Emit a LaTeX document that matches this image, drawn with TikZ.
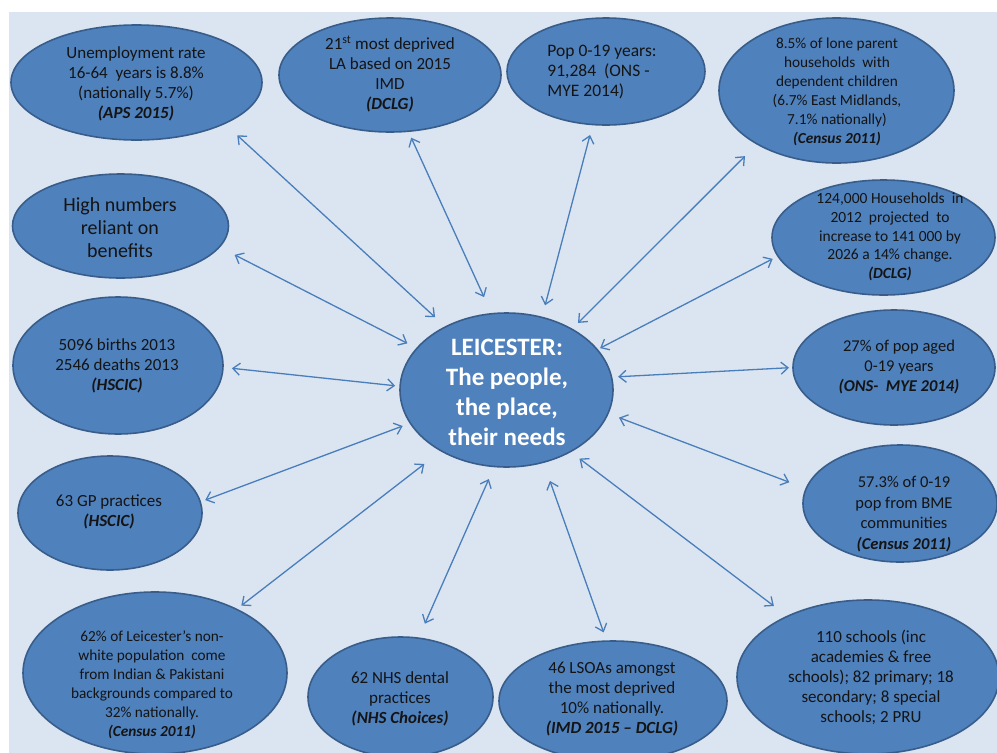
\documentclass[tikz,border=0pt]{standalone}
\usepackage{fontspec}
\setmainfont{Carlito}
\usetikzlibrary{arrows.meta,shapes.geometric}
\definecolor{bg}{HTML}{DBE5F1}
\definecolor{ellfill}{HTML}{4F81BD}
\definecolor{elldraw}{HTML}{385D8A}
\definecolor{arr}{HTML}{4A7EBB}
\definecolor{ink}{HTML}{141414}
\begin{document}
\begin{tikzpicture}[x=1pt,y=-1pt,
  ell/.style={ellipse, draw=elldraw, line width=1.6pt, fill=ellfill, inner sep=0pt, outer sep=0pt},
  txt/.style={align=center, inner sep=0pt, text=ink},
  fa/.style={font=\fontsize{17}{20}\selectfont},
  fb/.style={font=\fontsize{15.3}{19}\selectfont},
  link/.style={draw=arr, line width=1.3pt, {Straight Barb[length=7pt,width=12pt]}-{Straight Barb[length=7pt,width=12pt]}}]
\newcommand{\src}[1]{\textbf{\textit{#1}}}
\useasboundingbox (0,0) rectangle (997,753);
\fill[white] (0,0) rectangle (997,753);
\fill[bg] (9,12) rectangle (997,753);

% ellipses
\node[ell, minimum width=251pt, minimum height=115pt] (un)   at (136.5,82.5) {};
\node[ell, minimum width=222pt, minimum height=114pt] (dep)  at (390,75) {};
\node[ell, minimum width=198pt, minimum height=107pt] (pop)  at (606,71.5) {};
\node[ell, minimum width=235pt, minimum height=145pt] (lone) at (836.5,90.5) {};
\node[ell, minimum width=223pt, minimum height=115pt] (hh)   at (883.5,237.5) {};
\node[ell, minimum width=216pt, minimum height=104pt] (ben)  at (120.5,226) {};
\node[ell, minimum width=210pt, minimum height=137pt] (bd)   at (118,365.5) {};
\node[ell, minimum width=213pt, minimum height=154pt] (c)    at (506.5,390) {};
\node[ell, minimum width=202pt, minimum height=115pt] (p27)  at (894,367.5) {};
\node[ell, minimum width=194pt, minimum height=117pt] (bme)  at (900,503.5) {};
\node[ell, minimum width=184pt, minimum height=114pt] (gp)   at (110,513) {};
\node[ell, minimum width=264pt, minimum height=162pt] (eth)  at (155,673) {};
\node[ell, minimum width=185pt, minimum height=120pt] (nhs)  at (400.5,697) {};
\node[ell, minimum width=228pt, minimum height=120pt] (lsoa) at (613,701) {};
\node[ell, minimum width=262pt, minimum height=154pt] (sch)  at (868,677) {};

% texts
\node[txt, fa] (un-t) at (136,84) {Unemployment rate\\16-64 \ years is 8.8\%\\(nationally 5.7\%)\\\src{(APS 2015)}};
\node[txt, fa] (dep-t) at (390,74) {21\textsuperscript{st} most deprived\\LA based on 2015\\IMD\\\src{(DCLG)}};
\node[txt, fa, font=\fontsize{17.5}{20}\selectfont, align=left] (pop-t) at (602,72) {Pop 0-19 years:\\91,284 \ (ONS -\\MYE 2014)};
\node[txt, fb] (lone-t) at (837,92) {8.5\% of lone parent\\households \ with\\dependent children\\(6.7\% East Midlands,\\7.1\% nationally)\\\src{(Census 2011)}};
\node[txt, font=\fontsize{15.5}{18.7}\selectfont] (hh-t) at (890,237) {124,000 Households \ in\\2012 \ projected \ to\\increase to 141 000 by\\2026 a 14\% change.\\\src{(DCLG)}};
\node[txt, font=\fontsize{20}{23}\selectfont] (ben-t) at (120,228) {High numbers\\reliant on\\benefits};
\node[txt, fa] (bd-t) at (117,366) {5096 births 2013\\2546 deaths 2013\\\src{(HSCIC)}};
\node[txt, font=\fontsize{25}{30}\selectfont\bfseries, text=white] (c-t) at (507,392) {LEICESTER:\\The people,\\the place,\\their needs};
\node[txt, font=\fontsize{16.5}{20}\selectfont] (p27-t) at (899,367) {27\% of pop aged\\0-19 years\\\src{(ONS- \ MYE 2014)}};
\node[txt, font=\fontsize{16.5}{20.5}\selectfont] (bme-t) at (904,514) {57.3\% of 0-19\\pop from BME\\communities\\\src{(Census 2011)}};
\node[txt, fa] (gp-t) at (109,512) {63 GP practices\\\src{(HSCIC)}};
\node[txt, fb] (eth-t) at (152,685) {62\% of Leicester’s non-\\white population \ come\\from Indian \& Pakistani\\backgrounds compared to\\32\% nationally.\\\src{(Census 2011)}};
\node[txt, fa] (nhs-t) at (400,699) {62 NHS dental\\practices\\\src{(NHS Choices)}};
\node[txt, font=\fontsize{17}{19.7}\selectfont] (lsoa-t) at (612,699) {46 LSOAs amongst\\the most deprived\\10\% nationally.\\\src{(IMD 2015 – DCLG)}};
\node[txt, fa] (sch-t) at (871,677) {110 schools (inc\\academies \& free\\schools); 82 primary; 18\\secondary; 8 special\\schools; 2 PRU};

% connectors
\draw[link, shorten <=17.4pt, shorten >=14.2pt] (un.-25.1) -- (c.134.4);
\draw[link, shorten <=7.1pt, shorten >=18.3pt] (dep.-72.4) -- (c.101.7);
\draw[link, shorten <=17.2pt, shorten >=10.8pt] (ben.-12.8) -- (c.155.2);
\draw[link, shorten <=10.8pt, shorten >=12.5pt] (pop.-104.1) -- (c.64.3);
\draw[link, shorten <=17.2pt, shorten >=8.8pt] (lone.-146.5) -- (c.43.1);
\draw[link, shorten <=6pt, shorten >=3.3pt] (hh.-170.1) -- (c.24.2);
\draw[link, shorten <=9pt, shorten >=5pt] (bd.-1.3) -- (c.178.5);
\draw[link, shorten <=4pt, shorten >=6.7pt] (p27.180) -- (c.7.2);
\draw[link, shorten <=18pt, shorten >=11.8pt] (bme.171.6) -- (c.-13.5);
\draw[link, shorten <=5.3pt, shorten >=8.2pt] (gp.7.8) -- (c.-161.5);
\draw[link, shorten <=6pt, shorten >=21.4pt] (eth.38.7) -- (c.-137.4);
\draw[link, shorten <=15.8pt, shorten >=13.7pt] (nhs.73.1) -- (c.-99.2);
\draw[link, shorten <=9.2pt, shorten >=19.8pt] (lsoa.96.6) -- (c.-63.2);
\draw[link, shorten <=17pt, shorten >=11.5pt] (sch.143.9) -- (c.-44.4);
\end{tikzpicture}
\end{document}
